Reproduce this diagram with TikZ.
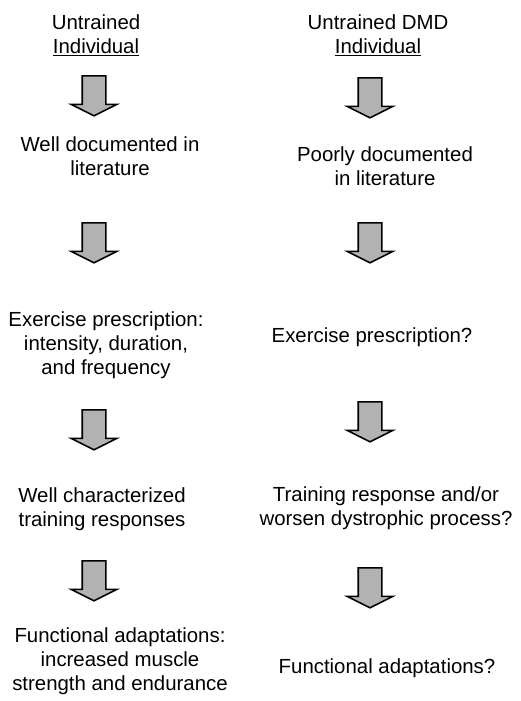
\documentclass[tikz,border=0pt]{standalone}
\usepackage{fontspec}
\setmainfont{Liberation Sans}
\usetikzlibrary{shapes.arrows}

\begin{document}
\begin{tikzpicture}[x=1pt,y=-1pt]
  \tikzset{txt/.style={align=center,inner sep=0pt,font=\fontsize{20.4}{24}\selectfont},
           blk/.style={single arrow,draw,line width=1.6pt,fill=gray!60,inner sep=11pt,
                       minimum height=40pt,minimum width=44pt,
                       single arrow head extend=11pt,single arrow tip angle=127,
                       shape border rotate=270,anchor=tail}}
  \useasboundingbox (0,0) rectangle (521,701);
  % left column
  \node[txt] (INDl) at (96,35) {Untrained\\\underline{Individual}};
  \node[blk] (A1l) at (94,75) {};
  \node[txt] (DOCl) at (110,156) {Well documented in\\literature};
  \node[blk] (A2l) at (94,222) {};
  \node[txt] (PRESl) at (106,345) {Exercise prescription:\\intensity, duration,\\and frequency};
  \node[blk] (A3l) at (94,409) {};
  \node[txt] (RESPl) at (102,509) {Well characterized\\training responses};
  \node[blk] (A4l) at (94,560) {};
  \node[txt] (ADAPl) at (120,661) {Functional adaptations:\\increased muscle\\strength and endurance};
  % right column
  \node[txt] (INDr) at (378,35) {Untrained DMD\\\underline{Individual}};
  \node[blk] (A1r) at (370,77) {};
  \node[txt] (DOCr) at (385,166) {Poorly documented\\in literature};
  \node[blk] (A2r) at (370,222) {};
  \node[txt] (PRESr) at (372,337) {Exercise prescription?};
  \node[blk] (A3r) at (370,401) {};
  \node[txt] (RESPr) at (386,508) {Training response and/or\\worsen dystrophic process?};
  \node[blk] (A4r) at (370,567) {};
  \node[txt] (ADAPr) at (387,668) {Functional adaptations?};
\end{tikzpicture}
\end{document}
